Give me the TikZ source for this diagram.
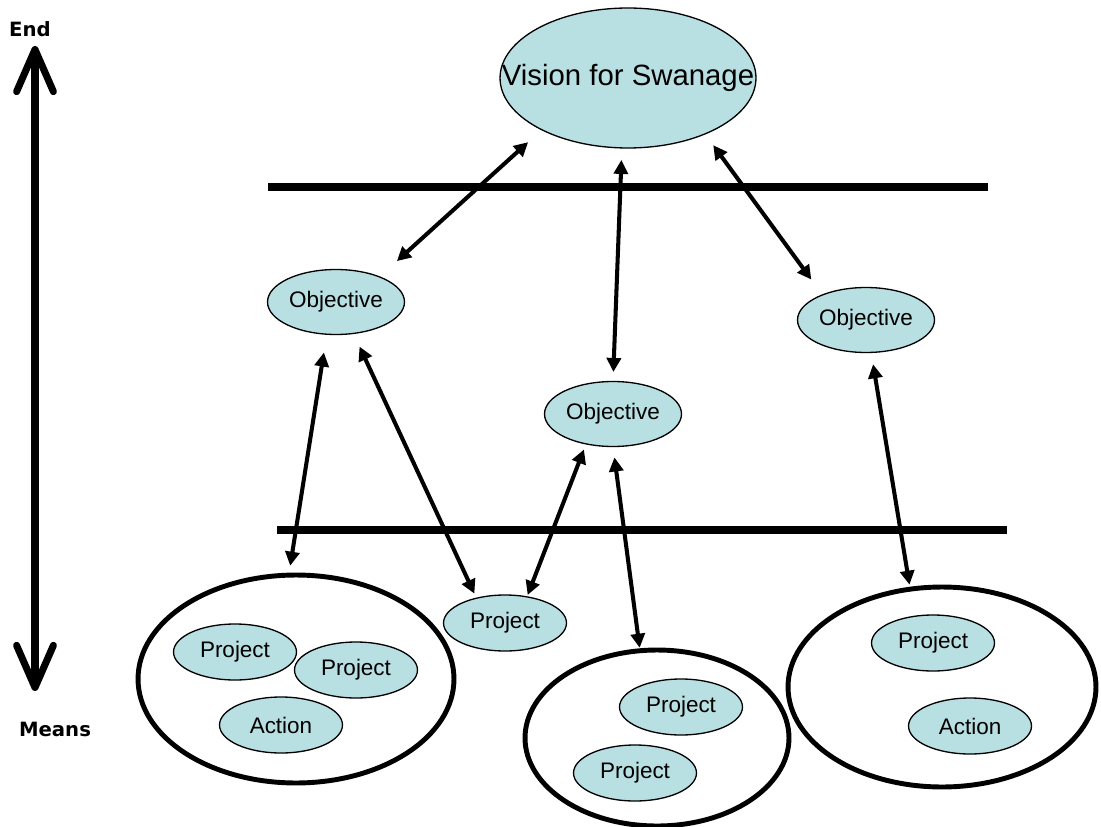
\documentclass[tikz,border=0pt]{standalone}
\usepackage{fontspec}
\setmainfont{Liberation Sans}
\newfontfamily\labelfont{DejaVu Sans}
\usetikzlibrary{shapes.geometric,arrows.meta}
\definecolor{paleteal}{RGB}{184,223,226}

\begin{document}
\begin{tikzpicture}[x=0.02cm,y=-0.02cm]
\tikzset{bubble/.style={ellipse,draw,fill=paleteal,line width=0.75pt,
inner sep=0pt,outer sep=0pt,font=\fontsize{12.8}{14}\selectfont},
objective/.style={bubble,minimum width=2.74cm,minimum height=1.3cm},
item/.style={bubble,minimum width=2.46cm,minimum height=1.12cm},
group/.style={ellipse,draw,line width=2.8pt,inner sep=0pt,outer sep=0pt},
link/.style={{Triangle[length=8pt,width=8pt]}-{Triangle[length=8pt,width=8pt]},
line width=2.3pt},
rule/.style={line width=4pt},
scalearrow/.style={{Straight Barb[length=24pt,width=21pt,round]}-{Straight Barb[length=24pt,width=21pt,round]},
line width=4pt,line cap=round},
axislabel/.style={font=\labelfont\bfseries\fontsize{11.2}{13}\selectfont},
}
\useasboundingbox (0,0) rectangle (1101,827);

% end / means scale
\node[axislabel] (endlabel) at (30,29) {End};
\node[axislabel] (meanslabel) at (55,729) {Means};
\coordinate (scaletop) at (35,46);
\coordinate (scalebottom) at (35,691);
\draw[scalearrow] (scaletop) -- (scalebottom);

% levels
\draw[rule] (268,187) -- (988,187);
\draw[rule] (277,530) -- (1007,530);

\node[bubble,minimum width=5.12cm,minimum height=2.8cm,
font=\fontsize{16.7}{19}\selectfont] (vision) at (628,78) {\makebox[0pt]{Vision for Swanage}};

\node[objective] (objL) at (336,302) {Objective};
\node[objective] (objM) at (613,414) {Objective};
\node[objective] (objR) at (866,320) {Objective};
\node[item] (projC) at (505,623) {Project};

\node[group,minimum width=6.32cm,minimum height=4.16cm] (groupL) at (296,679) {};
\node[group,minimum width=5.28cm,minimum height=3.52cm] (groupM) at (657,738) {};
\node[group,minimum width=6.16cm,minimum height=4.0cm] (groupR) at (942,687) {};

\node[item] (projL1) at (235,652) {Project};
\node[item] (projL2) at (356,670) {Project};
\node[item] (actL) at (281,725) {Action};
\node[item] (projM1) at (681,707) {Project};
\node[item] (projM2) at (635,773) {Project};
\node[item] (projR) at (933,643) {Project};
\node[item] (actR) at (970,726) {Action};

\draw[link,shorten <=.37cm,shorten >=.47cm] (vision.211.5) -- (objL.30);
\draw[link,shorten <=.24cm,shorten >=.19cm] (vision.265.8) -- (objM.90);
\draw[link,shorten <=.28cm,shorten >=.38cm] (vision.324.3) -- (objR.150.9);
\draw[link,shorten <=.37cm,shorten >=.19cm] (objL.254.4) -- (groupL.94);
\draw[link,shorten <=.29cm,shorten >=.1cm] (objL.299.6) -- (projC.139.7);
\draw[link,shorten <=.12cm,shorten >=.04cm] (objM.228.6) -- (projC.50.6);
\draw[link,shorten <=.22cm,shorten >=.06cm] (objM.270) -- (groupM.101.9);
\draw[link,shorten <=.24cm,shorten >=.09cm] (objR.279) -- (groupR.108.4);
\end{tikzpicture}
\end{document}
